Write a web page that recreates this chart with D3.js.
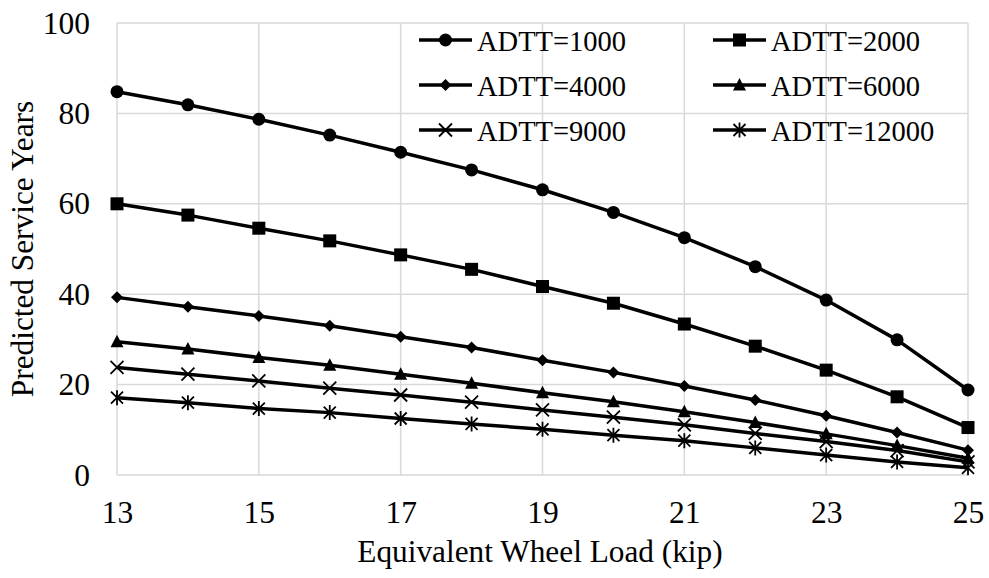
<!DOCTYPE html>
<html><head><meta charset="utf-8">
<script src="https://cdn.jsdelivr.net/npm/d3@7"></script>
<style>body{margin:0;background:#fff}svg{display:block}</style>
</head><body><svg id="c" width="989" height="578"></svg>
<script>
const loads = [13,14,15,16,17,18,19,20,21,22,23,24,25];
const seriesNames = ["ADTT=1000","ADTT=2000","ADTT=4000","ADTT=6000","ADTT=9000","ADTT=12000"];
const adtt1000  = [84.8,81.9,78.7,75.2,71.4,67.5,63.1,58.1,52.5,46.1,38.7,29.9,18.8];
const adtt2000  = [60.0,57.5,54.6,51.8,48.7,45.5,41.7,38.0,33.4,28.5,23.2,17.3,10.5];
const adtt4000  = [39.3,37.2,35.2,33.0,30.6,28.2,25.4,22.7,19.7,16.6,13.1,9.4,5.5];
const adtt6000  = [29.5,27.9,26.0,24.3,22.3,20.3,18.2,16.2,14.0,11.6,9.1,6.5,3.7];
const adtt9000  = [23.8,22.3,20.8,19.2,17.7,16.1,14.4,12.8,11.1,9.2,7.4,5.4,2.9];
const adtt12000 = [17.1,16.0,14.7,13.8,12.5,11.3,10.1,8.8,7.6,6.0,4.4,2.9,1.6];
const xTicks = [13,15,17,19,21,23,25];
const yTicks = [0,20,40,60,80,100];
const seriesValues = [adtt1000,adtt2000,adtt4000,adtt6000,adtt9000,adtt12000];
const markers = ["circle","square","diamond","triangle","x","star"];

const FONT = "'Liberation Serif', 'Times New Roman', Times, serif";
const svg = d3.select("#c");
const m = {l:117,r:968,t:23,b:475};
const x = d3.scaleLinear().domain([13,25]).range([m.l,m.r]);
const y = d3.scaleLinear().domain([0,100]).range([m.b,m.t]);

const g = svg.append("g");
g.selectAll("line.h").data(yTicks).join("line")
  .attr("x1",m.l).attr("x2",m.r).attr("y1",d=>y(d)).attr("y2",d=>y(d))
  .attr("stroke","#d9d9d9").attr("stroke-width",1.5);
g.selectAll("line.v").data(xTicks).join("line")
  .attr("x1",d=>x(d)).attr("x2",d=>x(d)).attr("y1",m.t).attr("y2",m.b)
  .attr("stroke","#d9d9d9").attr("stroke-width",1.5);

const xAxis = svg.append("g").attr("transform",`translate(0,${m.b})`)
  .call(d3.axisBottom(x).tickValues(xTicks).tickSize(0).tickPadding(47.5));
xAxis.select(".domain").remove();
xAxis.attr("font-family",null).attr("font-size",null);
xAxis.selectAll("text").style("font-family",FONT).style("font-size","31.5px").attr("fill","#000").attr("dy","0");
const yAxis = svg.append("g").attr("transform",`translate(${m.l},0)`)
  .call(d3.axisLeft(y).tickValues(yTicks).tickSize(0).tickPadding(27));
yAxis.select(".domain").remove();
yAxis.attr("font-family",null).attr("font-size",null);
yAxis.selectAll("text").style("font-family",FONT).style("font-size","31.5px").attr("fill","#000").attr("dy","0.32em");

svg.append("text").attr("x",540).attr("y",562).attr("text-anchor","middle")
  .style("font-family",FONT).style("font-size","31.3px").text("Equivalent Wheel Load (kip)");
svg.append("text").attr("transform",`translate(33,249) rotate(-90)`)
  .attr("text-anchor","middle").style("font-family",FONT).style("font-size","31.3px").text("Predicted Service Years");

function drawMarker(sel, type){
  if(type==="circle") sel.append("circle").attr("r",6.5).attr("fill","#000");
  else if(type==="square") sel.append("rect").attr("x",-6.5).attr("y",-6.5).attr("width",13).attr("height",13).attr("fill","#000");
  else if(type==="diamond") sel.append("path").attr("d","M0,-6L6,0L0,6L-6,0Z").attr("fill","#000");
  else if(type==="triangle") sel.append("path").attr("d","M0,-7L6.5,5.5L-6.5,5.5Z").attr("fill","#000");
  else if(type==="x") sel.append("path").attr("d","M-6.5,-6.5L6.5,6.5M-6.5,6.5L6.5,-6.5").attr("stroke","#000").attr("stroke-width",1.8).attr("fill","none");
  else if(type==="star") sel.append("path").attr("d","M-6,-6L6,6M-6,6L6,-6M0,-7.5L0,7.5").attr("stroke","#000").attr("stroke-width",1.8).attr("fill","none");
}

const line = d3.line().x((d,i)=>x(loads[i])).y(d=>y(d));
seriesValues.forEach((vals,si)=>{
  svg.append("path").datum(vals).attr("d",line).attr("fill","none")
    .attr("stroke","#000").attr("stroke-width",3.5).attr("stroke-linejoin","round");
  vals.forEach((v,i)=>{
    const mg = svg.append("g").attr("transform",`translate(${x(loads[i])},${y(v)})`);
    drawMarker(mg, markers[si]);
  });
});

const legX = [419,713], legY = [40,85,130];
seriesNames.forEach((name,i)=>{
  const lx = legX[i%2], ly = legY[Math.floor(i/2)];
  const lg = svg.append("g").attr("transform",`translate(${lx},${ly})`);
  lg.append("line").attr("x1",0).attr("x2",53).attr("y1",0).attr("y2",0)
    .attr("stroke","#000").attr("stroke-width",3.5);
  const mk = lg.append("g").attr("transform","translate(26.5,0)");
  drawMarker(mk, markers[i]);
  lg.append("text").attr("x",58).attr("y",10.5)
    .style("font-family",FONT).style("font-size","28.5px").text(name);
});
</script></body></html>
